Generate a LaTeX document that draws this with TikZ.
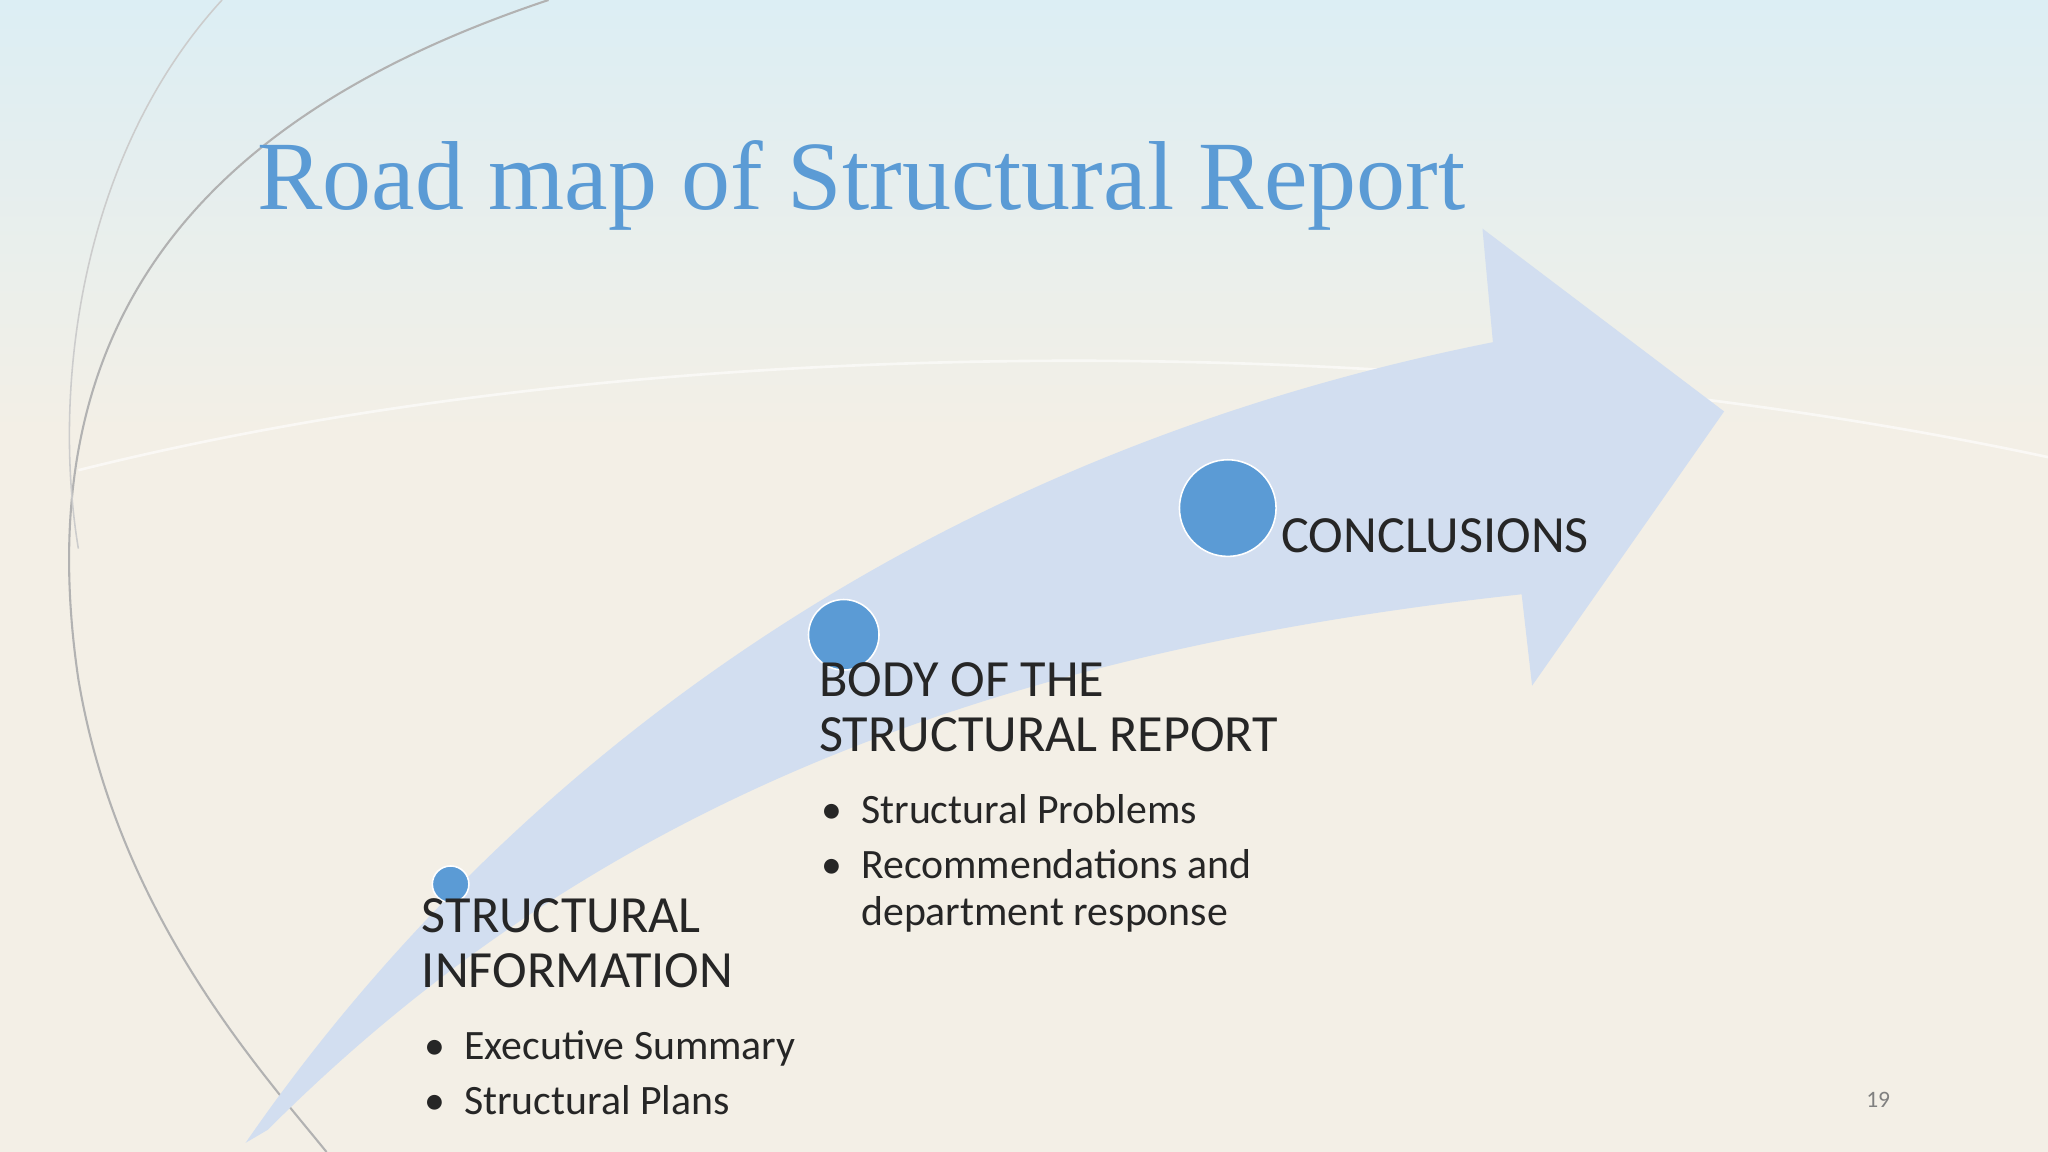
\documentclass[tikz,border=0pt]{standalone}
\usepackage{fontspec}
\setmainfont{Carlito}
\newfontfamily\titlefont{Liberation Serif}
\begin{document}
\begin{tikzpicture}[x=0.5pt,y=-0.5pt,
  dot/.style={circle,fill=dotblue,draw=white,line width=0.6pt,inner sep=0pt},
  head/.style={anchor=north west,align=left,font=\fontsize{20}{21}\selectfont,text=black!85},
  bul/.style={anchor=north west,align=left,font=\fontsize{16}{18}\selectfont,text=black!85}]
\definecolor{dotblue}{HTML}{5B9BD5}
\definecolor{band}{HTML}{D2DEF0}
\definecolor{titleblue}{HTML}{5B9BD5}
\definecolor{bgA}{HTML}{F3EFE6}
\definecolor{bgB}{HTML}{DCEEF4}
\useasboundingbox (0,0) rectangle (1568,882);
\fill[bgA] (0,0) rectangle (1568,882);
\shade[top color=bgB,bottom color=bgA] (0,0) rectangle (1568,330);
\draw[gray!60,line width=0.8pt] (420,0) .. controls (150,90) and (20,250) .. (60,520) .. controls (90,700) and (200,820) .. (250,882);
\draw[gray!40,line width=0.6pt] (170,0) .. controls (60,120) and (40,300) .. (60,420);
\draw[white,opacity=0.6,line width=1pt] (60,360) .. controls (500,250) and (1100,250) .. (1568,350);
% arrow band
\fill[band] (188,875) .. controls (350,640) and (650,360) .. (1143,262)
  -- (1135,175) -- (1320,315) -- (1173,525) -- (1165,455)
  .. controls (750,500) and (450,620) .. (205,865) -- cycle;
\node[font=\titlefont\fontsize{37.5}{42}\selectfont,text=titleblue,anchor=west] (title) at (190,142) {Road map of Structural Report};
\node[dot,minimum size=14pt] (d1) at (345,677) {};
\node[dot,minimum size=27pt] (d2) at (646,486) {};
\node[dot,minimum size=37pt] (d3) at (940,389) {};
\node[head,anchor=west] (t3) at (974,410) {CONCLUSIONS};
\node[head] (t2) at (620,500) {BODY OF THE\\STRUCTURAL REPORT};
\node[bul] (b2) at (622,601) {\textbullet\hspace{0.45em}Structural Problems\\[3pt]\textbullet\hspace{0.45em}Recommendations and\\\phantom{\textbullet\hspace{0.45em}}department response};
\node[head] (t1) at (316,681) {STRUCTURAL\\INFORMATION};
\node[bul] (b1) at (318,782) {\textbullet\hspace{0.45em}Executive Summary\\[3pt]\textbullet\hspace{0.45em}Structural Plans};
\node[font=\fontsize{9}{10}\selectfont,text=gray] (pg) at (1438,842) {19};
\end{tikzpicture}
\end{document}
